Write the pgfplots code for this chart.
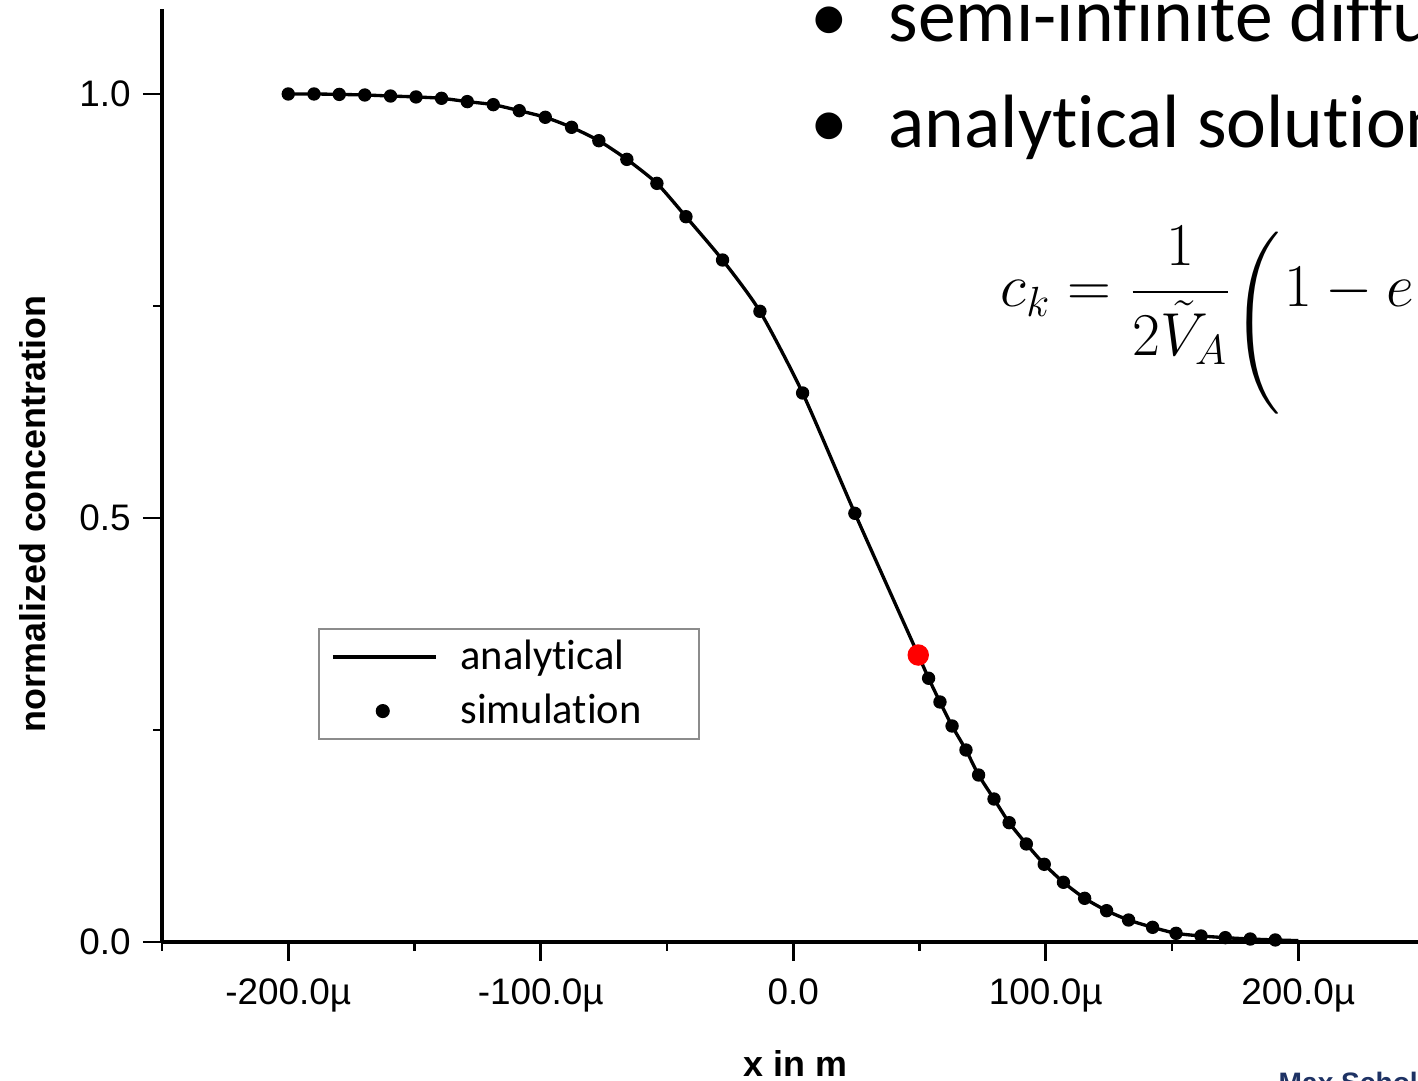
\documentclass[border=0pt]{standalone}
\usepackage{fontspec}
\setmainfont{Liberation Sans}
\newfontfamily\calibri[Ligatures={NoCommon,NoRare,NoContextual}]{Carlito}
\usepackage{amsmath}
\usepackage{pgfplots}
\usepackage{pgfplotstable}
\pgfplotsset{compat=1.18}

% simulation points, x in micrometres
\pgfplotstableread{
x y
-200.0 1.0000
-189.8 1.0000
-179.8 0.9995
-169.7 0.9988
-159.5 0.9976
-149.4 0.9965
-139.3 0.9949
-129.1 0.9910
-118.8 0.9874
-108.5 0.9803
-98.2 0.9725
-87.8 0.9607
-77.0 0.9449
-65.9 0.9229
-54.0 0.8946
-42.5 0.8553
-28.0 0.8042
-13.2 0.7437
3.7 0.6474
24.4 0.5055
53.6 0.3110
58.1 0.2830
62.9 0.2547
68.4 0.2264
73.4 0.1969
79.5 0.1686
85.5 0.1407
92.3 0.1156
99.4 0.0916
107.0 0.0704
115.4 0.0515
124.1 0.0369
132.8 0.0259
142.3 0.0173
151.6 0.0102
161.5 0.0071
171.1 0.0051
181.0 0.0035
190.9 0.0024
}\simdata

% analytical curve
\pgfplotstableread{
x y
-200.0 1.0000
-189.8 1.0000
-179.8 0.9995
-169.7 0.9988
-159.5 0.9976
-149.4 0.9965
-139.3 0.9949
-129.1 0.9910
-118.8 0.9874
-108.5 0.9803
-98.2 0.9725
-87.8 0.9607
-77.0 0.9449
-65.9 0.9229
-54.0 0.8946
-42.5 0.8553
-28.0 0.8042
-13.2 0.7437
3.7 0.6474
24.4 0.5055
49.5 0.3384
53.6 0.3110
58.1 0.2830
62.9 0.2547
68.4 0.2264
73.4 0.1969
79.5 0.1686
85.5 0.1407
92.3 0.1156
99.4 0.0916
107.0 0.0704
115.4 0.0515
124.1 0.0369
132.8 0.0259
142.3 0.0173
151.6 0.0102
161.5 0.0071
171.1 0.0051
181.0 0.0035
190.9 0.0024
200.0 0.0016
}\curvedata

\definecolor{navy}{RGB}{30,50,100}

\pgfplotsset{
  lineleg/.style={legend image code/.code={\draw[##1] (0cm,0cm) -- (1.03cm,0cm);}},
  dotleg/.style={legend image code/.code={\path[draw=none] (0cm,0cm) -- (1.03cm,0cm);
    \draw[##1] plot coordinates {(0.5cm,0cm)};}},
}

\begin{document}
\begin{tikzpicture}[x=1cm,y=1cm]
\path[use as bounding box] (0,0) rectangle (14.18,10.81);
\clip (0,0) rectangle (14.18,10.81);
\begin{axis}[
  at={(1.62cm,1.39cm)}, anchor=south west,
  scale only axis, width=12.625cm, height=9.328cm,
  xmin=-250, xmax=250, ymin=0, ymax=1.1,
  axis x line*=bottom, axis y line*=left,
  axis line style={line width=0.9pt},
  xtick={-200,-100,0,100,200},
  xticklabels={-200.0µ,-100.0µ,0.0,100.0µ,200.0µ},
  minor xtick={-250,-150,-50,50,150,250},
  ytick={0,0.5,1}, yticklabels={0.0,0.5,1.0},
  minor ytick={0.25,0.75},
  tick align=outside,
  major tick length=0.19cm, minor tick length=0.09cm,
  every tick/.style={black, line width=0.8pt},
  tick label style={font=\fontsize{10.5}{12}\selectfont},
  xticklabel style={yshift=-0.05cm},
  xlabel={x in m}, ylabel={normalized concentration},
  label style={font=\fontsize{10.2}{12}\selectfont\bfseries},
  xlabel style={at={(axis description cs:0.502,-0.1437)}, anchor=base},
  ylabel style={at={(axis description cs:-0.0919,0.4588)}, anchor=base},
  clip=false,
  legend style={at={(axis description cs:0.1236,0.3366)}, anchor=north west,
    draw=black!45, line width=0.6pt, inner xsep=0.12cm, inner ysep=0.08cm,
    column sep=0.23cm, row sep=0.14cm,
    font=\calibri\fontsize{12.1}{14}\selectfont, cells={anchor=west},
    nodes={inner sep=0pt, text height=0.32cm, text depth=0.08cm}},
]
\addplot[black, line width=0.95pt, smooth, tension=0.4, lineleg]
  table[x=x, y=y] {\curvedata};
\addlegendentry{\makebox[2.27cm][l]{analytical}}
\addplot[only marks, mark=*, mark size=1.7pt, black, dotleg]
  table[x=x, y=y] {\simdata};
\addlegendentry{\makebox[2.27cm][l]{simulation}}
\addplot[only marks, mark=*, mark size=2.85pt, red, forget plot]
  coordinates {(49.5,0.3384)};
\end{axis}

% slide text beside the chart
\node[anchor=base, inner sep=0pt, font=\calibri\fontsize{21.5}{24}\selectfont] at (8.29,10.39) {•};
\node[anchor=base west, inner sep=0pt, font=\calibri\fontsize{21.5}{24}\selectfont] at (8.88,10.39) {semi-infinite diffusion};
\node[anchor=base, inner sep=0pt, font=\calibri\fontsize{21.5}{24}\selectfont] at (8.29,9.33) {•};
\node[anchor=base west, inner sep=0pt, font=\calibri\fontsize{21.5}{24}\selectfont] at (8.88,9.33) {analytical solution};
\node[anchor=base west, inner sep=0pt, font=\fontsize{16.5}{19}\selectfont] at (10.0,7.74)
  {$c_k = \dfrac{1}{2\tilde{V}_A}\raisebox{-0.31cm}{$\left(\rule[-0.84cm]{0pt}{1.68cm}\right.$}1 - e$};
\node[anchor=base west, inner sep=0pt, text=navy, font=\fontsize{8}{10}\selectfont\bfseries] at (12.78,-0.12) {Max Scholz};
\end{tikzpicture}
\end{document}
